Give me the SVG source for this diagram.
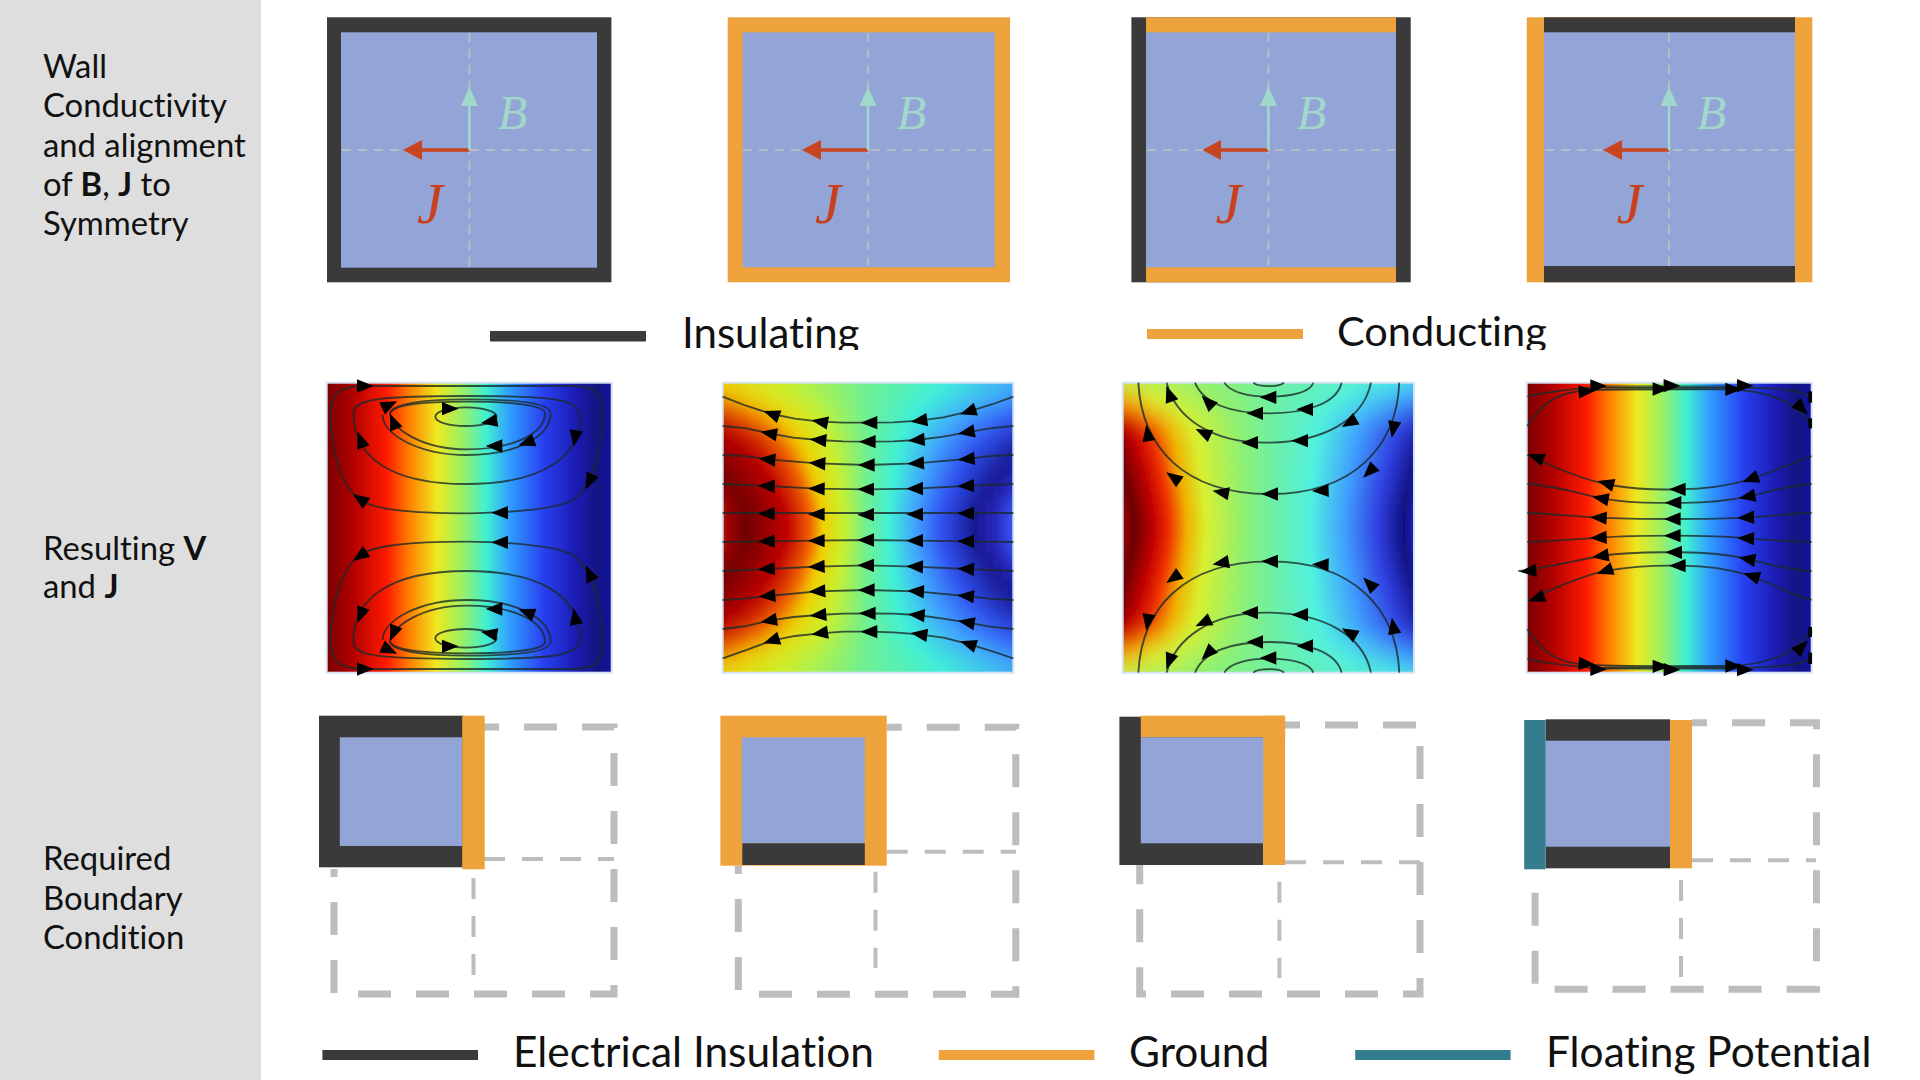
<svg xmlns="http://www.w3.org/2000/svg" width="1920" height="1080" viewBox="0 0 1920 1080">
<style>
text{font-family:"Lato","Liberation Sans",sans-serif;fill:#111;font-variant-ligatures:none}
.lab{font-size:32.8px}
.leg{font-size:42.4px}
.b{font-weight:700}
.dk{fill:#3a3a3a}.or{fill:#eda23c}.bl{fill:#93a5d6}.te{fill:#347d8e}
.ax{stroke:#bfc4c0;stroke-width:2;stroke-dasharray:9 7;fill:none;opacity:.8}
.jl{stroke:#c8451f;stroke-width:3.5;fill:none}.jh{fill:#c8451f}
.bll{stroke:#a0d8cc;stroke-width:2.5;fill:none}.bh{fill:#a0d8cc}
.B{font-family:"Liberation Serif",serif;font-style:italic;font-size:48px;fill:#a0d8cc}
.J{font-family:"Liberation Serif",serif;font-style:italic;font-size:58px;fill:#c8401c}
.sl{fill:none;stroke:#1c2b2b;stroke-opacity:.8;stroke-width:5.5;stroke-linejoin:round}
.fr{fill:none;stroke:#d5e3f2;stroke-width:2}
.g1{fill:none;stroke:#bdbdbd;stroke-width:7;stroke-dasharray:33 25;stroke-dashoffset:18}
.g2{fill:none;stroke:#bdbdbd;stroke-width:4;stroke-dasharray:21 17}
</style>
<defs>
<polygon id="h" points="26,0 -24,-20 -24,20" fill="#000"/>
<linearGradient id="jet" x1="0" x2="1" y1="0" y2="0">
<stop offset="0" stop-color="#7a0000"/><stop offset=".09" stop-color="#b00000"/><stop offset=".21" stop-color="#ff1a00"/><stop offset=".29" stop-color="#ff8000"/><stop offset=".386" stop-color="#eee820"/><stop offset=".47" stop-color="#a0f060"/><stop offset=".56" stop-color="#40f0d0"/><stop offset=".64" stop-color="#30a0ff"/><stop offset=".76" stop-color="#2840f0"/><stop offset=".88" stop-color="#1a1ab0"/><stop offset=".95" stop-color="#151580"/><stop offset="1" stop-color="#1010a0"/>
</linearGradient>
<linearGradient id="j2">
<stop offset="0" stop-color="#b00800"/><stop offset=".08" stop-color="#700000"/><stop offset=".22" stop-color="#c00000"/><stop offset=".3" stop-color="#f06000"/><stop offset=".345" stop-color="#f0d000"/><stop offset=".415" stop-color="#c8f030"/><stop offset=".495" stop-color="#70f090"/><stop offset=".575" stop-color="#40f0d8"/><stop offset=".665" stop-color="#40a0ff"/><stop offset=".755" stop-color="#3050f0"/><stop offset=".87" stop-color="#181890"/><stop offset=".94" stop-color="#2828c0"/><stop offset="1" stop-color="#3858f0"/>
</linearGradient>
<linearGradient id="j3">
<stop offset="0" stop-color="#a00000"/><stop offset=".04" stop-color="#6a0000"/><stop offset=".105" stop-color="#c00000"/><stop offset=".16" stop-color="#f03000"/><stop offset=".22" stop-color="#f0b000"/><stop offset=".287" stop-color="#d8f030"/><stop offset=".415" stop-color="#90f070"/><stop offset=".505" stop-color="#70f0a0"/><stop offset=".645" stop-color="#50f0e0"/><stop offset=".76" stop-color="#40a0ff"/><stop offset=".875" stop-color="#3040e0"/><stop offset=".965" stop-color="#101080"/><stop offset="1" stop-color="#2020c0"/>
</linearGradient>
<linearGradient id="a1" href="#j2" gradientUnits="userSpaceOnUse" x1="384" x2="1352"/>
<linearGradient id="a2" href="#j2" gradientUnits="userSpaceOnUse" x1="486" x2="1250"/>
<linearGradient id="a3" href="#j2" gradientUnits="userSpaceOnUse" x1="559" x2="1177"/>
<linearGradient id="a4" href="#j2" gradientUnits="userSpaceOnUse" x1="604" x2="1132"/>
<linearGradient id="a5" href="#j2" gradientUnits="userSpaceOnUse" x1="637" x2="1099"/>
<linearGradient id="a6" href="#j2" gradientUnits="userSpaceOnUse" x1="660" x2="1076"/>
<linearGradient id="a7" href="#j2" gradientUnits="userSpaceOnUse" x1="677" x2="1059"/>
<linearGradient id="a8" href="#j2" gradientUnits="userSpaceOnUse" x1="691" x2="1045"/>
<linearGradient id="a9" href="#j2" gradientUnits="userSpaceOnUse" x1="701" x2="1035"/>
<linearGradient id="a10" href="#j2" gradientUnits="userSpaceOnUse" x1="712" x2="1024"/>
<linearGradient id="a11" href="#j2" gradientUnits="userSpaceOnUse" x1="722.7" x2="1013.3"/>
<linearGradient id="c1" href="#j3" gradientUnits="userSpaceOnUse" x1="852" x2="1684"/>
<linearGradient id="c2" href="#j3" gradientUnits="userSpaceOnUse" x1="1003" x2="1533"/>
<linearGradient id="c3" href="#j3" gradientUnits="userSpaceOnUse" x1="1060" x2="1476"/>
<linearGradient id="c4" href="#j3" gradientUnits="userSpaceOnUse" x1="1086" x2="1450"/>
<linearGradient id="c5" href="#j3" gradientUnits="userSpaceOnUse" x1="1097" x2="1439"/>
<linearGradient id="c6" href="#j3" gradientUnits="userSpaceOnUse" x1="1103" x2="1434"/>
<linearGradient id="c7" href="#j3" gradientUnits="userSpaceOnUse" x1="1106" x2="1430"/>
<linearGradient id="c8" href="#j3" gradientUnits="userSpaceOnUse" x1="1111" x2="1425"/>
<linearGradient id="c9" href="#j3" gradientUnits="userSpaceOnUse" x1="1115" x2="1421"/>
<linearGradient id="c10" href="#j3" gradientUnits="userSpaceOnUse" x1="1118" x2="1418"/>
<linearGradient id="c11" href="#j3" gradientUnits="userSpaceOnUse" x1="1121" x2="1415"/>
<linearGradient id="c12" href="#j3" gradientUnits="userSpaceOnUse" x1="1122.7" x2="1414"/>
<filter id="vb" x="0" y="-10%" width="100%" height="120%"><feGaussianBlur stdDeviation="0 10"/></filter>
<clipPath id="cp2"><rect x="722.7" y="382.7" width="290.6" height="290"/></clipPath>
<clipPath id="cp3"><rect x="1122.7" y="382.7" width="291.3" height="290"/></clipPath>
<clipPath id="cI"><rect x="660" y="300" width="220" height="50"/></clipPath>
<clipPath id="cC"><rect x="1320" y="300" width="240" height="50"/></clipPath>
</defs>
<rect width="1920" height="1080" fill="#fff"/>
<rect id="side-panel" width="261" height="1080" fill="#dedede"/>
<g id="row-labels">
<text class="lab" x="43" y="78">Wall</text>
<text class="lab" x="43" y="117">Conductivity</text>
<text class="lab" x="43" y="157">and alignment</text>
<text class="lab" x="43" y="196">of <tspan class="b">B</tspan>, <tspan class="b">J</tspan> to</text>
<text class="lab" x="43" y="235">Symmetry</text>
<text class="lab" x="43" y="560">Resulting <tspan class="b">V</tspan></text>
<text class="lab" x="43" y="598">and <tspan class="b">J</tspan></text>
<text class="lab" x="43" y="870">Required</text>
<text class="lab" x="43" y="910">Boundary</text>
<text class="lab" x="43" y="949">Condition</text>
</g>
<g id="wall-1">
<rect class="dk" x="327" y="17.3" width="284.4" height="265"/>
<rect class="bl" x="341" y="32.3" width="256" height="235.4"/>
<path class="ax" d="M469.4,33V267M342,150H596"/>
<path class="jl" d="M469.4,150H418"/><polygon class="jh" points="403,150 422,140 422,160"/>
<path class="bll" d="M469.4,150V102"/><polygon class="bh" points="469.4,87 461,106 478,106"/>
<text class="B" x="498" y="129">B</text><text class="J" x="417" y="223">J</text>
</g>
<g id="wall-2">
<rect class="or" x="727.7" y="17.3" width="282.3" height="265"/>
<rect class="bl" x="742.7" y="32.3" width="252" height="235"/>
<path class="ax" d="M868,33V267M743,150H994"/>
<path class="jl" d="M868,150H817"/><polygon class="jh" points="802,150 821,140 821,160"/>
<path class="bll" d="M868,150V102"/><polygon class="bh" points="868,87 859.5,106 876.5,106"/>
<text class="B" x="897" y="129">B</text><text class="J" x="815" y="223">J</text>
</g>
<g id="wall-3">
<rect class="dk" x="1131.4" y="17.3" width="279.3" height="265"/>
<rect class="or" x="1146" y="17.3" width="250" height="265"/>
<rect class="bl" x="1146" y="32.3" width="250" height="235"/>
<path class="ax" d="M1268.4,33V267M1147,150H1395"/>
<path class="jl" d="M1268.4,150H1217"/><polygon class="jh" points="1202.5,150 1221,140 1221,160"/>
<path class="bll" d="M1268.4,150V102"/><polygon class="bh" points="1268.4,87 1260,106 1277,106"/>
<text class="B" x="1297" y="129">B</text><text class="J" x="1215.5" y="223">J</text>
</g>
<g id="wall-4">
<rect class="or" x="1526.8" y="17.3" width="285.5" height="265"/>
<rect class="dk" x="1544" y="17.3" width="251" height="265"/>
<rect class="bl" x="1544" y="32.3" width="251" height="233.7"/>
<path class="ax" d="M1669,33V266M1545,150H1794"/>
<path class="jl" d="M1669,150H1618"/><polygon class="jh" points="1603,150 1622,140 1622,160"/>
<path class="bll" d="M1669,150V102"/><polygon class="bh" points="1669,87 1660.5,106 1677.5,106"/>
<text class="B" x="1697" y="129">B</text><text class="J" x="1616.5" y="223">J</text>
</g>
<g id="legend-walls">
<rect class="dk" x="490" y="331" width="156" height="10.5"/>
<text class="leg" x="682" y="348" clip-path="url(#cI)" style="font-size:42px">Insulating</text>
<rect class="or" x="1147" y="329" width="156" height="10"/>
<text class="leg" x="1337" y="346" clip-path="url(#cC)" style="font-size:41.5px">Conducting</text>
</g>
<g id="field-1">
<rect x="326.7" y="382.7" width="285" height="290" fill="url(#jet)"/>
<rect class="fr" x="326.7" y="382.7" width="285" height="290"/>
<g transform="translate(310,370) scale(.3333)">
<g id="p1half">
<path class="sl" d="M160,48H780C860,48 878,70 878,130C878,240 850,340 790,390C730,420 600,428 470,430C300,430 190,420 140,385C90,330 62,240 62,130C62,70 90,48 160,48Z"/>
<path class="sl" d="M130,130C130,85 220,78 470,78C720,78 810,85 810,140C810,260 700,342 470,342C240,342 130,260 130,130Z"/>
<path class="sl" d="M240,130C245,100 350,88 470,88C620,88 722,100 722,130C722,200 620,255 470,255C330,255 218,195 218,135"/>
<path class="sl" d="M240,130C240,170 330,238 470,238C610,238 705,190 705,130C705,105 600,95 470,95C340,95 250,105 240,130Z"/>
<ellipse class="sl" cx="468" cy="140" rx="92" ry="28"/>
<use href="#h" transform="translate(165,48)"/>
<use href="#h" transform="translate(238,105) rotate(-25)"/>
<use href="#h" transform="translate(250,155) rotate(-112)"/>
<use href="#h" transform="translate(420,116)"/>
<use href="#h" transform="translate(538,155) rotate(170)"/>
<use href="#h" transform="translate(553,228) rotate(180)"/>
<use href="#h" transform="translate(650,218) rotate(160)"/>
<use href="#h" transform="translate(795,205) rotate(100)"/>
<use href="#h" transform="translate(838,335) rotate(115)"/>
<use href="#h" transform="translate(570,428) rotate(180)"/>
<use href="#h" transform="translate(150,387) rotate(215)"/>
<use href="#h" transform="translate(152,210) rotate(-110)"/>
</g>
<use href="#p1half" transform="matrix(1 0 0 -1 0 945)"/>
</g>
</g>
<g id="field-2">
<g clip-path="url(#cp2)"><g filter="url(#vb)">
<rect x="722" y="340" width="292" height="55" fill="url(#a1)"/><rect x="722" y="395" width="292" height="12" fill="url(#a2)"/><rect x="722" y="407" width="292" height="12" fill="url(#a3)"/><rect x="722" y="419" width="292" height="12" fill="url(#a4)"/><rect x="722" y="431" width="292" height="12" fill="url(#a5)"/><rect x="722" y="443" width="292" height="12" fill="url(#a6)"/><rect x="722" y="455" width="292" height="12" fill="url(#a7)"/><rect x="722" y="467" width="292" height="12" fill="url(#a8)"/><rect x="722" y="479" width="292" height="12" fill="url(#a9)"/><rect x="722" y="491" width="292" height="12" fill="url(#a10)"/><rect x="722" y="503" width="292" height="49" fill="url(#a11)"/><rect x="722" y="552" width="292" height="12" fill="url(#a10)"/><rect x="722" y="564" width="292" height="12" fill="url(#a9)"/><rect x="722" y="576" width="292" height="12" fill="url(#a8)"/><rect x="722" y="588" width="292" height="12" fill="url(#a7)"/><rect x="722" y="600" width="292" height="12" fill="url(#a6)"/><rect x="722" y="612" width="292" height="12" fill="url(#a5)"/><rect x="722" y="624" width="292" height="12" fill="url(#a4)"/><rect x="722" y="636" width="292" height="12" fill="url(#a3)"/><rect x="722" y="648" width="292" height="12" fill="url(#a2)"/><rect x="722" y="660" width="292" height="55" fill="url(#a1)"/>
</g></g>
<rect class="fr" x="722.7" y="382.7" width="290.6" height="290"/>
<g transform="translate(710,370) scale(.3333)">
<polyline class="sl" points="38,80 110,108 185,132 255,146 330,155 400,158 478,158 550,157 628,152 700,142 775,125 850,102 910,80"/>
<polyline class="sl" points="38,168 110,175 177,190 250,203 325,210 400,214 473,215 550,214 620,210 700,200 770,187 840,175 910,168"/>
<polyline class="sl" points="38,255 105,258 172,268 322,280 470,285 618,280 770,267 840,258 910,255"/>
<polyline class="sl" points="38,342 170,348 320,356 468,358 615,356 768,348 910,342"/>
<polyline class="sl" points="38,429 910,429"/>
<polyline class="sl" points="38,516 320,512 468,510 615,512 910,516"/>
<polyline class="sl" points="38,603 170,597 320,590 468,586 615,590 768,597 910,603"/>
<polyline class="sl" points="38,690 105,686 172,678 322,664 470,660 618,664 768,678 840,686 910,690"/>
<polyline class="sl" points="38,777 110,768 177,752 250,741 325,735 400,731 473,730 550,731 620,735 700,746 770,757 840,770 910,777"/>
<polyline class="sl" points="38,865 110,840 185,812 255,798 330,790 400,785 478,785 550,787 628,793 700,803 775,822 850,845 910,865"/>
<use href="#h" transform="translate(185,132) rotate(200)"/><use href="#h" transform="translate(330,155) rotate(190)"/><use href="#h" transform="translate(478,158) rotate(180)"/><use href="#h" transform="translate(628,152) rotate(172)"/><use href="#h" transform="translate(775,125) rotate(162)"/>
<use href="#h" transform="translate(177,190) rotate(190)"/><use href="#h" transform="translate(325,210) rotate(185)"/><use href="#h" transform="translate(473,215) rotate(180)"/><use href="#h" transform="translate(620,210) rotate(175)"/><use href="#h" transform="translate(770,187) rotate(170)"/>
<use href="#h" transform="translate(172,268) rotate(185)"/><use href="#h" transform="translate(322,280) rotate(183)"/><use href="#h" transform="translate(470,285) rotate(180)"/><use href="#h" transform="translate(618,280) rotate(177)"/><use href="#h" transform="translate(770,267) rotate(175)"/>
<use href="#h" transform="translate(170,348) rotate(182)"/><use href="#h" transform="translate(320,356) rotate(181)"/><use href="#h" transform="translate(468,358) rotate(180)"/><use href="#h" transform="translate(615,356) rotate(179)"/><use href="#h" transform="translate(768,348) rotate(178)"/>
<use href="#h" transform="translate(170,431) rotate(180)"/><use href="#h" transform="translate(320,433) rotate(180)"/><use href="#h" transform="translate(468,434) rotate(180)"/><use href="#h" transform="translate(615,433) rotate(180)"/><use href="#h" transform="translate(768,430) rotate(180)"/>
<use href="#h" transform="translate(170,514) rotate(179)"/><use href="#h" transform="translate(320,512) rotate(180)"/><use href="#h" transform="translate(468,510) rotate(180)"/><use href="#h" transform="translate(615,512) rotate(180)"/><use href="#h" transform="translate(768,514) rotate(181)"/>
<use href="#h" transform="translate(170,597) rotate(177)"/><use href="#h" transform="translate(320,590) rotate(178)"/><use href="#h" transform="translate(468,586) rotate(180)"/><use href="#h" transform="translate(615,590) rotate(182)"/><use href="#h" transform="translate(768,597) rotate(183)"/>
<use href="#h" transform="translate(172,678) rotate(175)"/><use href="#h" transform="translate(322,664) rotate(177)"/><use href="#h" transform="translate(470,660) rotate(180)"/><use href="#h" transform="translate(618,664) rotate(183)"/><use href="#h" transform="translate(768,678) rotate(185)"/>
<use href="#h" transform="translate(177,752) rotate(170)"/><use href="#h" transform="translate(325,735) rotate(175)"/><use href="#h" transform="translate(473,730) rotate(180)"/><use href="#h" transform="translate(620,735) rotate(185)"/><use href="#h" transform="translate(770,757) rotate(190)"/>
<use href="#h" transform="translate(185,812) rotate(162)"/><use href="#h" transform="translate(330,790) rotate(172)"/><use href="#h" transform="translate(478,785) rotate(180)"/><use href="#h" transform="translate(628,793) rotate(188)"/><use href="#h" transform="translate(775,822) rotate(198)"/>
</g>
</g>
<g id="field-3">
<g clip-path="url(#cp3)"><g filter="url(#vb)">
<rect x="1122" y="340" width="293" height="49" fill="url(#c1)"/><rect x="1122" y="389" width="293" height="18" fill="url(#c2)"/><rect x="1122" y="407" width="293" height="12" fill="url(#c3)"/><rect x="1122" y="419" width="293" height="12" fill="url(#c4)"/><rect x="1122" y="431" width="293" height="12" fill="url(#c5)"/><rect x="1122" y="443" width="293" height="12" fill="url(#c6)"/><rect x="1122" y="455" width="293" height="12" fill="url(#c7)"/><rect x="1122" y="467" width="293" height="12" fill="url(#c8)"/><rect x="1122" y="479" width="293" height="12" fill="url(#c9)"/><rect x="1122" y="491" width="293" height="12" fill="url(#c10)"/><rect x="1122" y="503" width="293" height="12" fill="url(#c11)"/><rect x="1122" y="515" width="293" height="25" fill="url(#c12)"/><rect x="1122" y="540" width="293" height="12" fill="url(#c11)"/><rect x="1122" y="552" width="293" height="12" fill="url(#c10)"/><rect x="1122" y="564" width="293" height="12" fill="url(#c9)"/><rect x="1122" y="576" width="293" height="12" fill="url(#c8)"/><rect x="1122" y="588" width="293" height="12" fill="url(#c7)"/><rect x="1122" y="600" width="293" height="12" fill="url(#c6)"/><rect x="1122" y="612" width="293" height="12" fill="url(#c5)"/><rect x="1122" y="624" width="293" height="12" fill="url(#c4)"/><rect x="1122" y="636" width="293" height="12" fill="url(#c3)"/><rect x="1122" y="648" width="293" height="18" fill="url(#c2)"/><rect x="1122" y="666" width="293" height="49" fill="url(#c1)"/>
</g></g>
<rect class="fr" x="1122.7" y="382.7" width="291.3" height="290"/>
<g transform="translate(1110,370) scale(.3333)">
<g id="p3half">
<path class="sl" d="M85,38C95,230 220,372 480,372C730,372 860,230 868,38"/>
<path class="sl" d="M170,38C195,140 300,218 470,218C640,218 760,150 783,38"/>
<path class="sl" d="M255,38C280,100 360,130 475,130C590,130 680,100 695,38"/>
<path class="sl" d="M343,38C360,68 420,80 475,80C540,80 600,68 610,38"/>
<path class="sl" d="M430,38C445,52 510,52 522,38"/>
<use href="#h" transform="translate(850,178) rotate(100)"/><use href="#h" transform="translate(778,305) rotate(135)"/><use href="#h" transform="translate(632,362) rotate(178)"/><use href="#h" transform="translate(480,372) rotate(180)"/><use href="#h" transform="translate(333,367) rotate(190)"/><use href="#h" transform="translate(190,322) rotate(215)"/><use href="#h" transform="translate(113,190) rotate(-100)"/>
<use href="#h" transform="translate(718,158) rotate(150)"/><use href="#h" transform="translate(570,212) rotate(180)"/><use href="#h" transform="translate(420,218) rotate(180)"/><use href="#h" transform="translate(280,188) rotate(205)"/><use href="#h" transform="translate(178,72) rotate(-110)"/>
<use href="#h" transform="translate(585,118) rotate(180)"/><use href="#h" transform="translate(435,130) rotate(180)"/><use href="#h" transform="translate(293,95) rotate(225)"/>
<use href="#h" transform="translate(475,82) rotate(180)"/>
</g>
<use href="#p3half" transform="matrix(1 0 0 -1 0 946)"/>
</g>
</g>
<g id="field-4">
<rect x="1526.7" y="382.7" width="285" height="290" fill="url(#jet)"/>
<rect class="fr" x="1526.7" y="382.7" width="285" height="290"/>
<g transform="translate(1510,370) scale(.3333)">
<path class="sl" d="M52,255C130,290 220,330 300,345C380,358 440,360 503,358C570,358 650,350 725,327C800,300 860,275 905,258"/>
<path class="sl" d="M52,342C130,345 210,372 275,385C350,398 420,400 490,398C560,400 640,395 712,380C780,365 840,345 905,342"/>
<path class="sl" d="M52,429C110,430 200,440 268,443C340,447 420,447 488,447C560,447 640,447 708,443C780,438 840,430 905,429"/>
<path class="sl" d="M52,516C110,515 200,508 268,503C340,498 420,497 488,497C560,497 640,498 708,505C780,510 840,515 905,516"/>
<path class="sl" d="M25,603C110,595 200,570 272,558C340,548 420,546 492,547C560,546 640,550 712,567C780,585 840,600 905,603"/>
<path class="sl" d="M55,690C120,660 210,620 285,603C360,590 440,586 503,587C570,586 650,595 725,618C800,650 860,680 905,690"/>
<use href="#h" transform="translate(78,262) rotate(200)"/><use href="#h" transform="translate(288,340) rotate(195)"/><use href="#h" transform="translate(503,358) rotate(180)"/><use href="#h" transform="translate(722,327) rotate(160)"/>
<use href="#h" transform="translate(272,385) rotate(190)"/><use href="#h" transform="translate(490,398) rotate(180)"/><use href="#h" transform="translate(712,380) rotate(170)"/>
<use href="#h" transform="translate(266,443) rotate(183)"/><use href="#h" transform="translate(488,447) rotate(180)"/><use href="#h" transform="translate(708,443) rotate(177)"/>
<use href="#h" transform="translate(266,503) rotate(178)"/><use href="#h" transform="translate(488,497) rotate(180)"/><use href="#h" transform="translate(708,505) rotate(182)"/>
<use href="#h" transform="translate(272,558) rotate(172)"/><use href="#h" transform="translate(492,547) rotate(180)"/><use href="#h" transform="translate(712,567) rotate(190)"/><use href="#h" transform="translate(55,603) rotate(175)"/>
<use href="#h" transform="translate(285,603) rotate(162)"/><use href="#h" transform="translate(503,587) rotate(180)"/><use href="#h" transform="translate(725,618) rotate(198)"/><use href="#h" transform="translate(80,685) rotate(160)"/>
<g id="p4corner">
<path class="sl" d="M52,80C100,65 160,62 240,52H700C800,55 870,60 900,80"/>
<path class="sl" d="M52,168C90,110 130,70 220,62C300,56 500,58 650,58C760,60 860,90 900,165"/>
<path d="M285,52H650" fill="none" stroke="#1c2b2b" stroke-opacity=".4" stroke-width="14"/>
<use href="#h" transform="translate(265,48)"/><use href="#h" transform="translate(230,64) rotate(-4)"/><use href="#h" transform="translate(485,47)"/><use href="#h" transform="translate(452,57)"/><use href="#h" transform="translate(705,47)"/><use href="#h" transform="translate(670,58)"/><use href="#h" transform="translate(875,115) rotate(45)"/>
<rect x="895" y="64" width="11" height="34" fill="#000"/><rect x="895" y="145" width="11" height="30" fill="#000"/>
</g>
<use href="#p4corner" transform="matrix(1 0 0 -1 0 946)"/>
</g>
</g>
<g id="bc-1">
<path class="g1" d="M484,727H614V994H334V869"/>
<path class="g2" d="M484,859H614"/><path class="g2" d="M473.5,878V980"/>
<rect class="dk" x="319" y="715.7" width="145" height="151.6"/>
<rect class="bl" x="339.8" y="737.3" width="122.4" height="108.7"/>
<rect class="or" x="462.2" y="715.7" width="22.5" height="153.6"/>
</g>
<g id="bc-2">
<path class="g1" d="M886.7,727.3H1015.8V994.3H738.3V866"/>
<path class="g2" d="M886.7,851.7H1016"/><path class="g2" d="M875.5,871.7V968"/>
<rect class="or" x="720.4" y="715.7" width="166.3" height="150"/>
<rect class="bl" x="741.8" y="737.3" width="123" height="106"/>
<rect class="dk" x="742.3" y="843.3" width="122.5" height="21.7"/>
</g>
<g id="bc-3">
<path class="g1" d="M1285,725H1420V994H1139.7V865"/>
<path class="g2" d="M1285,862.3H1420"/><path class="g2" d="M1279.4,881.7V978"/>
<rect class="dk" x="1119.4" y="716.7" width="144" height="148.3"/>
<rect class="or" x="1140.8" y="715.7" width="144.3" height="21.6"/>
<rect class="or" x="1263.2" y="715.7" width="21.9" height="149.3"/>
<rect class="bl" x="1140.8" y="737.3" width="122.4" height="106"/>
</g>
<g id="bc-4">
<path class="g1" d="M1692,722.7H1816.5V989.3H1535.1V869"/>
<path class="g2" d="M1692,860.3H1816"/><path class="g2" d="M1681,880V977"/>
<rect class="dk" x="1545.6" y="719.3" width="124.4" height="149"/>
<rect class="bl" x="1545.6" y="740.7" width="124.4" height="106"/>
<rect class="te" x="1524.2" y="720" width="21.4" height="149.3"/>
<rect class="or" x="1670" y="720" width="22" height="148.3"/>
</g>
<g id="legend-bc">
<rect class="dk" x="322.4" y="1050" width="155.6" height="10"/>
<text class="leg" x="513" y="1067">Electrical Insulation</text>
<rect class="or" x="938.8" y="1050" width="155.6" height="10"/>
<text class="leg" x="1129" y="1067">Ground</text>
<rect class="te" x="1355.2" y="1050" width="155.4" height="10"/>
<text class="leg" x="1546" y="1067">Floating Potential</text>
</g>
</svg>
